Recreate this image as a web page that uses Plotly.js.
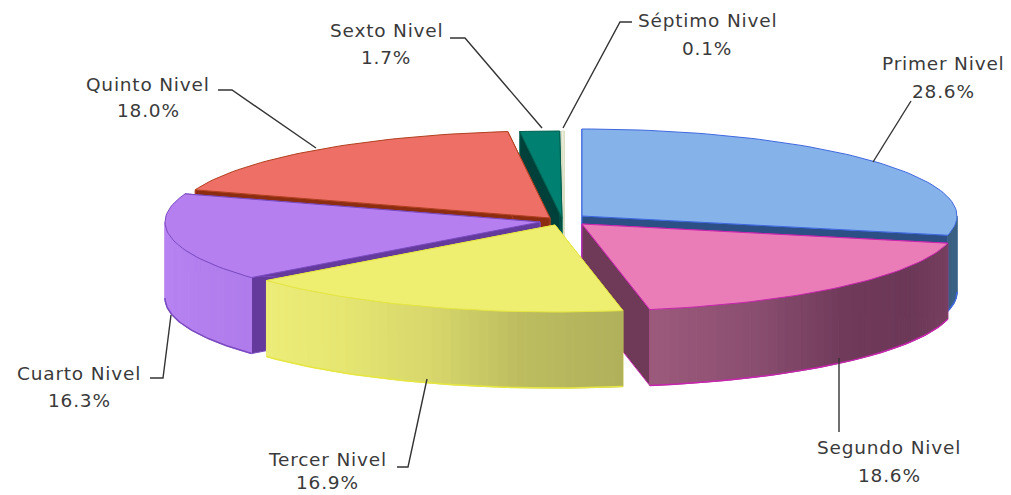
<!DOCTYPE html>
<html>
<head>
<meta charset="utf-8">
<script src="https://cdn.plot.ly/plotly-3.0.1.min.js"></script>
<style>html,body{margin:0;padding:0;background:#fff}
.annotation-text{letter-spacing:0.8px}</style>
</head>
<body>
<div id="chart" style="width:1011px;height:495px"></div>
<script>
// Data
var levels = ["Primer Nivel","Segundo Nivel","Tercer Nivel","Cuarto Nivel","Quinto Nivel","Sexto Nivel","Séptimo Nivel"];
var shares = [28.6,18.6,16.9,16.3,18.0,1.7,0.1];

// Styles and layout
var topColors  = ["#86b2ea","#ea7cb8","#eeee70","#b57ff0","#ee6f66","#008070","#f4f6e4"];
var edgeColors = ["#3f68e0","#c925b0","#e6e640","#7a4ac0","#b04020","#006050","#d8dcc0"];
var cutColors  = ["#2c4f86","#6e3a58","#a8a850","#643a9c","#8c2c10","#00403a","#e0e0d0"];
var rimStops   = [["#3a6288","#3a5f80"],["#784060","#6c3858","#703a5a","#8a4e70","#9c5a7c"],
                  ["#b0b05c","#bcbc60","#d8d86c","#e6e672","#ecec78"],["#b07cec","#b884f2"],["#000000","#000000"],["#000000","#000000"],["#000000","#000000"]];
var apexX = [582,582,555,540,550,562,564];
var apexY = [216,224,225,222,218,218,218];
var radX = 375, radY = 87, depth = 76;
var drawOrder = [6,5,0,4,3,1,2];
var labelX   = [943,889,327,79,148,386,707];
var labelY   = [63,447,459,373,84,30,20];
var percentY = [91,475,482,400,110,57,48];
var leaderX  = [[873,911],[839,839],[427,408,397],[171,163,150],[316,232,218],[542,465,450],[563,620,632]];
var leaderY  = [[162,101],[358,432],[379,467,467],[315,378,378],[148,90,90],[128,38,38],[128,22,22]];

function hexToRgb(h){return [1,3,5].map(function(i){return parseInt(h.substr(i,2),16);});}
function mix(stops,t){
  var p=t*(stops.length-1), i=Math.min(Math.floor(p),stops.length-2), f=p-i;
  var a=hexToRgb(stops[i]), b=hexToRgb(stops[i+1]);
  return "rgb("+a.map(function(v,k){return Math.round(v+(b[k]-v)*f);}).join(",")+")";
}
var traces=[];
function poly(xs,ys,fill,lineColor,lineWidth){
  traces.push({type:"scatter",mode:"lines",x:xs.concat(xs[0]),y:ys.concat(ys[0]),fill:"toself",fillcolor:fill,
    line:{color:lineColor||fill,width:lineWidth===undefined?1:lineWidth,shape:"linear"},hoverinfo:"skip",showlegend:false});
}
function px(i,a){return apexX[i]+radX*Math.sin(a*Math.PI/180);}
function py(i,a){return apexY[i]-radY*Math.cos(a*Math.PI/180);}

// Slice angles follow the shares
var total=shares.reduce(function(s,v){return s+v;},0), startA=[], endA=[], run=0;
shares.forEach(function(v,i){startA[i]=run*360/total; run+=v; endA[i]=run*360/total;});

function drawSlice(i){
  var a0=startA[i], a1=endA[i], ax=apexX[i], ay=apexY[i];
  // cut faces
  [a0,a1].forEach(function(a){
    poly([ax,px(i,a),px(i,a),ax],[ay,py(i,a),py(i,a)+depth,ay+depth],cutColors[i],edgeColors[i],1);
  });
  // outer rim, only the front half can be seen
  var r0=Math.max(a0,90), r1=Math.min(a1,270);
  if(r1>r0){
    var n=Math.ceil((r1-r0)/1.5);
    for(var k=0;k<n;k++){
      var b0=r0+(r1-r0)*k/n, b1=r0+(r1-r0)*(k+1)/n;
      var xs=[],ys=[];
      for(var s=0;s<=2;s++){var b=b0+(b1-b0)*s/2; xs.push(px(i,b)); ys.push(py(i,b));}
      for(var s2=2;s2>=0;s2--){var c=b0+(b1-b0)*s2/2; xs.push(px(i,c)); ys.push(py(i,c)+depth);}
      poly(xs,ys,mix(rimStops[i],(k+0.5)/n));
    }
    var bx=[],by=[];
    for(var q=0;q<=60;q++){var d=r0+(r1-r0)*q/60; bx.push(px(i,d)); by.push(py(i,d)+depth);}
    traces.push({type:"scatter",mode:"lines",x:bx,y:by,line:{color:edgeColors[i],width:1.5},hoverinfo:"skip",showlegend:false});
  }
  // top face
  var tx=[ax],ty=[ay], m=Math.max(2,Math.ceil((a1-a0)/1.5));
  for(var j=0;j<=m;j++){var e=a0+(a1-a0)*j/m; tx.push(px(i,e)); ty.push(py(i,e));}
  poly(tx,ty,topColors[i],edgeColors[i],1);
}
drawOrder.forEach(drawSlice);

// Leader lines
levels.forEach(function(name,i){
  traces.push({type:"scatter",mode:"lines",x:leaderX[i],y:leaderY[i],line:{color:"#333",width:1.4},hoverinfo:"skip",showlegend:false});
});

var annotations=[];
levels.forEach(function(name,i){
  var font={family:"DejaVu Sans, sans-serif",size:18.5,color:"#3a3a3a"};
  annotations.push({x:labelX[i],y:labelY[i],xref:"x",yref:"y",text:name,showarrow:false,font:font,xanchor:"center",yanchor:"middle"});
  annotations.push({x:labelX[i],y:percentY[i],xref:"x",yref:"y",text:shares[i].toFixed(1)+"%",showarrow:false,font:font,xanchor:"center",yanchor:"middle"});
});

var layout={
  width:1011,height:495,margin:{l:0,r:0,t:0,b:0},paper_bgcolor:"#fff",plot_bgcolor:"#fff",showlegend:false,
  xaxis:{range:[0,1011],visible:false,fixedrange:true},
  yaxis:{range:[495,0],visible:false,fixedrange:true},
  annotations:annotations
};
Plotly.newPlot("chart",traces,layout,{displayModeBar:false,staticPlot:true});
</script>
</body>
</html>
